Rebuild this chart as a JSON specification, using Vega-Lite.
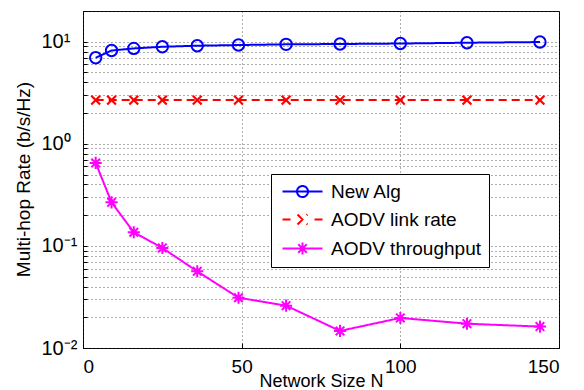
{
  "$schema": "https://vega.github.io/schema/vega-lite/v6.json",
  "width": 476,
  "height": 337,
  "autosize": {"type": "none"},
  "padding": {"left": 83, "top": 11, "right": 25, "bottom": 42},
  "config": {
    "view": {"stroke": "black", "strokeWidth": 1},
    "font": "Liberation Sans",
    "background": "white"
  },
  "data": {
    "values": [
      {"N": 4, "rate": 6.97, "series": "New Alg"},
      {"N": 9, "rate": 8.2, "series": "New Alg"},
      {"N": 16, "rate": 8.6, "series": "New Alg"},
      {"N": 25, "rate": 8.93, "series": "New Alg"},
      {"N": 36, "rate": 9.14, "series": "New Alg"},
      {"N": 49, "rate": 9.28, "series": "New Alg"},
      {"N": 64, "rate": 9.43, "series": "New Alg"},
      {"N": 81, "rate": 9.5, "series": "New Alg"},
      {"N": 100, "rate": 9.6, "series": "New Alg"},
      {"N": 121, "rate": 9.78, "series": "New Alg"},
      {"N": 144, "rate": 9.93, "series": "New Alg"},
      {"N": 4, "rate": 2.68, "series": "AODV link rate"},
      {"N": 9, "rate": 2.68, "series": "AODV link rate"},
      {"N": 16, "rate": 2.68, "series": "AODV link rate"},
      {"N": 25, "rate": 2.68, "series": "AODV link rate"},
      {"N": 36, "rate": 2.68, "series": "AODV link rate"},
      {"N": 49, "rate": 2.68, "series": "AODV link rate"},
      {"N": 64, "rate": 2.68, "series": "AODV link rate"},
      {"N": 81, "rate": 2.68, "series": "AODV link rate"},
      {"N": 100, "rate": 2.68, "series": "AODV link rate"},
      {"N": 121, "rate": 2.68, "series": "AODV link rate"},
      {"N": 144, "rate": 2.68, "series": "AODV link rate"},
      {"N": 4, "rate": 0.65, "series": "AODV throughput"},
      {"N": 9, "rate": 0.267, "series": "AODV throughput"},
      {"N": 16, "rate": 0.136, "series": "AODV throughput"},
      {"N": 25, "rate": 0.0955, "series": "AODV throughput"},
      {"N": 36, "rate": 0.0564, "series": "AODV throughput"},
      {"N": 49, "rate": 0.0311, "series": "AODV throughput"},
      {"N": 64, "rate": 0.026, "series": "AODV throughput"},
      {"N": 81, "rate": 0.0147, "series": "AODV throughput"},
      {"N": 100, "rate": 0.0197, "series": "AODV throughput"},
      {"N": 121, "rate": 0.0173, "series": "AODV throughput"},
      {"N": 144, "rate": 0.0162, "series": "AODV throughput"}
    ]
  },
  "encoding": {
    "x": {
      "field": "N",
      "type": "quantitative",
      "scale": {"domain": [0, 150], "nice": false, "zero": false},
      "axis": {
        "values": [0, 50, 100, 150],
        "grid": true,
        "gridColor": "#333333",
        "gridDash": [1, 3],
        "gridWidth": 0.8,
        "domain": false,
        "ticks": true,
        "tickSize": -5,
        "tickColor": "black",
        "labelFontSize": 19,
        "labelPadding": 14,
        "labelColor": "black",
        "title": "Network Size N",
        "titleFontSize": 18,
        "titleFontWeight": "normal",
        "titleColor": "black",
        "titleX": 238,
        "titleY": 38,
        "titleBaseline": "alphabetic",
        "titleAlign": "center"
      }
    },
    "y": {
      "field": "rate",
      "type": "quantitative",
      "scale": {"type": "log", "domain": [0.01, 20], "nice": false},
      "axis": {
        "values": [0.01, 0.02, 0.03, 0.04, 0.05, 0.06, 0.07, 0.08, 0.09, 0.1, 0.2, 0.3, 0.4, 0.5, 0.6, 0.7, 0.8, 0.9, 1, 2, 3, 4, 5, 6, 7, 8, 9, 10, 20],
        "labelExpr": "datum.value == 0.01 ? '10⁻²' : datum.value == 0.1 ? '10⁻¹' : datum.value == 1 ? '10⁰' : datum.value == 10 ? '10¹' : ''",
        "labelOverlap": false,
        "grid": true,
        "gridColor": "#333333",
        "gridDash": [1, 3],
        "gridWidth": 0.8,
        "domain": false,
        "ticks": true,
        "tickSize": -4,
        "tickColor": "black",
        "labelFontSize": 20,
        "labelAlign": "left",
        "labelBaseline": "middle",
        "labelPadding": 46,
        "labelColor": "black",
        "title": "Multi-hop Rate (b/s/Hz)",
        "titleFontSize": 19,
        "titleFontWeight": "normal",
        "titleColor": "black",
        "titleAngle": -90,
        "titleX": -60,
        "titleY": 168,
        "titleAlign": "center",
        "titleBaseline": "middle"
      }
    },
    "color": {
      "field": "series",
      "type": "nominal",
      "scale": {
        "domain": ["New Alg", "AODV link rate", "AODV throughput"],
        "range": ["#0000ff", "#ff0000", "#ff00ff"]
      },
      "legend": {
        "title": null,
        "orient": "none",
        "legendX": 188,
        "legendY": 163,
        "fillColor": "white",
        "strokeColor": "black",
        "padding": 8,
        "labelFontSize": 19,
        "labelColor": "black",
        "symbolSize": 100,
        "symbolStrokeWidth": 2,
        "symbolOffset": 14,
        "labelOffset": 19,
        "rowPadding": 8,
        "symbolFillColor": "transparent",
        "encode": {
          "symbols": {
            "update": {
              "shape": {"signal": "datum.value === 'New Alg' ? 'M-4,0L4,0M-1.1,0A1.1,1.1 0 1,1 1.1,0A1.1,1.1 0 1,1 -1.1,0' : datum.value === 'AODV link rate' ? 'M-1,-1L1,1M-1,1L1,-1M-4,0L-2.4,0M2.4,0L4,0' : 'M-4,0L4,0M0,-1.2L0,1.2M-1.2,0L1.2,0M-0.85,-0.85L0.85,0.85M-0.85,0.85L0.85,-0.85'"},
              "fill": {"value": "transparent"},
              "strokeDash": {"value": []},
              "strokeWidth": {"value": 2}
            }
          }
        }
      }
    }
  },
  "layer": [
    {
      "mark": {"type": "line", "strokeWidth": 2},
      "encoding": {
        "strokeDash": {
          "field": "series",
          "type": "nominal",
          "scale": {
            "domain": ["New Alg", "AODV link rate", "AODV throughput"],
            "range": [[1, 0], [8, 5], [1, 0]]
          },
          "legend": null
        }
      }
    },
    {
      "transform": [{"filter": "datum.series === 'New Alg'"}],
      "mark": {"type": "point", "shape": "circle", "filled": false, "strokeWidth": 2, "size": 130, "opacity": 1}
    },
    {
      "transform": [{"filter": "datum.series === 'AODV link rate'"}],
      "mark": {"type": "point", "shape": "M-0.8,-0.8L0.8,0.8M-0.8,0.8L0.8,-0.8", "filled": false, "strokeWidth": 2.2, "size": 121, "opacity": 1}
    },
    {
      "transform": [{"filter": "datum.series === 'AODV throughput'"}],
      "mark": {"type": "point", "shape": "M0,-1.1L0,1.1M-1.1,0L1.1,0M-0.78,-0.78L0.78,0.78M-0.78,0.78L0.78,-0.78", "filled": false, "strokeWidth": 2, "size": 121, "opacity": 1}
    }
  ]
}
